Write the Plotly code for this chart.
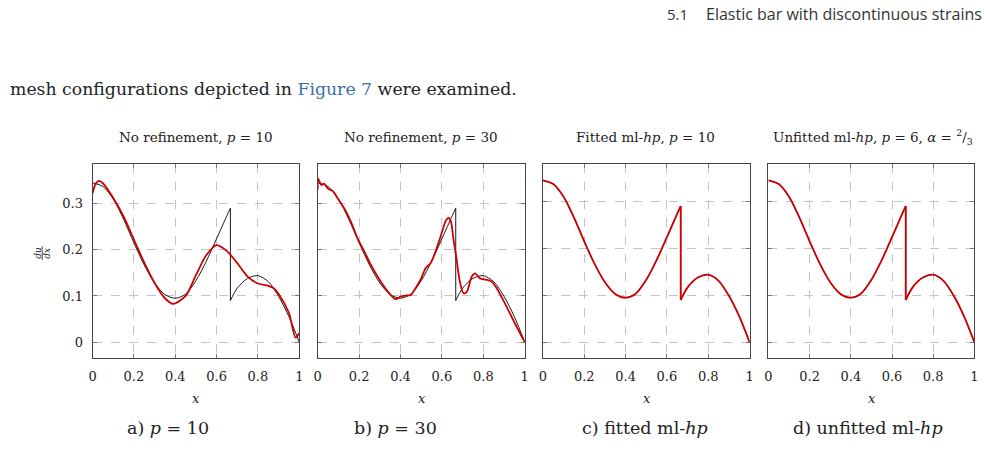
import plotly.graph_objects as go

# ---------------- data ----------------
exact_left_x = [0.0, 0.05, 0.10, 0.15, 0.20, 0.25, 0.30, 0.35, 0.40, 0.45, 0.50, 0.55, 0.60, 0.65, 0.6667]
exact_left_y = [0.345, 0.337, 0.310, 0.266, 0.215, 0.167, 0.128, 0.103, 0.095, 0.104, 0.133, 0.175, 0.224, 0.274, 0.290]
exact_right_x = [0.6667, 0.70, 0.75, 0.80, 0.85, 0.90, 0.95, 1.00]
exact_right_y = [0.090, 0.117, 0.138, 0.144, 0.131, 0.099, 0.055, 0.000]

p10_x = [0.0, 0.015, 0.03, 0.05, 0.10, 0.15, 0.20, 0.25, 0.30, 0.35, 0.39, 0.45, 0.50, 0.55, 0.60,
         0.65, 0.70, 0.75, 0.80, 0.85, 0.875, 0.90, 0.95, 0.982, 1.0]
p10_y = [0.322, 0.343, 0.349, 0.344, 0.312, 0.272, 0.222, 0.172, 0.128, 0.095, 0.083, 0.100, 0.145, 0.188, 0.210,
         0.197, 0.171, 0.142, 0.127, 0.122, 0.117, 0.104, 0.063, 0.010, 0.020]

p30_x = [0.0, 0.002, 0.018, 0.030, 0.050, 0.073, 0.097, 0.129, 0.161, 0.193, 0.225, 0.257, 0.289, 0.321,
         0.353, 0.377, 0.401, 0.425, 0.449, 0.473, 0.497, 0.521, 0.545, 0.569, 0.593, 0.621, 0.633, 0.644,
         0.656, 0.669, 0.685, 0.704, 0.720, 0.744, 0.760, 0.784, 0.816, 0.840, 0.864, 0.896, 0.920, 0.944,
         0.968, 1.0]
p30_y = [0.330, 0.354, 0.340, 0.343, 0.332, 0.327, 0.311, 0.289, 0.260, 0.224, 0.196, 0.167, 0.142, 0.120,
         0.102, 0.093, 0.099, 0.101, 0.102, 0.117, 0.135, 0.160, 0.171, 0.196, 0.228, 0.265, 0.269, 0.260,
         0.221, 0.185, 0.135, 0.106, 0.109, 0.142, 0.149, 0.138, 0.135, 0.131, 0.117, 0.091, 0.070, 0.048,
         0.027, 0.0]

x_ticks = [0, 0.2, 0.4, 0.6, 0.8, 1]
x_tick_text = ["0", "0.2", "0.4", "0.6", "0.8", "1"]
y_ticks = [0, 0.1, 0.2, 0.3]
y_tick_text = ["0", "0.1", "0.2", "0.3"]

panel_titles = ["No refinement, <i>p</i> = 10", "No refinement, <i>p</i> = 30",
                "Fitted ml-<i>hp</i>, <i>p</i> = 10",
                "Unfitted ml-<i>hp</i>, <i>p</i> = 6, <i>α</i> = <sup>2</sup>/<sub>3</sub>"]
captions = ["a) <i>p</i> = 10", "b) <i>p</i> = 30", "c) fitted ml-<i>hp</i>", "d) unfitted ml-<i>hp</i>"]
approx_x = [p10_x, p30_x]
approx_y = [p10_y, p30_y]
y_ranges = [[-0.035, 0.385], [-0.035, 0.385], [-0.034, 0.379], [-0.034, 0.379]]

# ---------------- layout geometry ----------------
W, H = 987, 472
def px(x): return x / W
def py(y): return 1 - y / H

x_domains_px = [(89.3, 297.7), (316.3, 525.0), (543.3, 751.7), (770.7, 978.3)]
y_top, y_bot = 164.3, 358.3

RED = "#cc0000"
BLACK = "#1a1a1a"
SERIF = "DejaVu Serif, Liberation Serif, serif"

fig = go.Figure()

def seg(xs, ys, xa, ya, color, width, spline=True):
    line = dict(color=color, width=width)
    if spline:
        line.update(shape="spline", smoothing=0.8)
    fig.add_trace(go.Scatter(x=xs, y=ys, xaxis=xa, yaxis=ya, mode="lines", line=line,
                             showlegend=False, hoverinfo="skip"))

for i in range(4):
    xa = "x" if i == 0 else f"x{i+1}"
    ya = "y" if i == 0 else f"y{i+1}"
    # exact solution (black)
    seg(exact_left_x, exact_left_y, xa, ya, BLACK, 1)
    seg([exact_left_x[-1], exact_right_x[0]], [exact_left_y[-1], exact_right_y[0]], xa, ya, BLACK, 1, False)
    seg(exact_right_x, exact_right_y, xa, ya, BLACK, 1)
    # approximation (red)
    if i < 2:
        seg(approx_x[i], approx_y[i], xa, ya, RED, 1.8)
    else:
        seg(exact_left_x, exact_left_y, xa, ya, RED, 1.8)
        seg([exact_left_x[-1], exact_right_x[0]], [exact_left_y[-1], exact_right_y[0]], xa, ya, RED, 1.8, False)
        seg(exact_right_x, exact_right_y, xa, ya, RED, 1.8)

    x0, x1 = x_domains_px[i]
    axis_common = dict(showgrid=True, griddash="dash", gridcolor="#c4c4c4", gridwidth=1,
                       zeroline=False, showline=True, linecolor="#444444", linewidth=1,
                       mirror="allticks", ticks="inside", ticklen=4, tickcolor="#777777",
                       tickfont=dict(family=SERIF, size=13, color="#222222"))
    fig.update_layout(**{
        ("xaxis" if i == 0 else f"xaxis{i+1}"): dict(
            domain=[px(x0), px(x1)], range=[0, 1], tickvals=x_ticks, ticktext=x_tick_text,
            anchor=ya, ticklabelstandoff=6, **axis_common),
        ("yaxis" if i == 0 else f"yaxis{i+1}"): dict(
            domain=[py(y_bot), py(y_top)], range=y_ranges[i], tickvals=y_ticks, ticktext=y_tick_text,
            anchor=xa, showticklabels=(i == 0), ticklabelstandoff=6, **axis_common),
    })

annotations = []
def ann(text, x, y, size, xanchor="center", family=SERIF, color="#222222", angle=0):
    annotations.append(dict(text=text, x=px(x), y=py(y), xref="paper", yref="paper",
                            xanchor=xanchor, yanchor="middle", showarrow=False, textangle=angle,
                            font=dict(family=family, size=size, color=color)))

SANS = "Open Sans, sans-serif"
ann("5.1", 666, 14, 15, xanchor="left", family=SANS, color="#333333")
ann("Elastic bar with discontinuous strains", 988, 14, 16, xanchor="right", family=SANS, color="#333333")
ann('mesh configurations depicted in <span style="color:#3d6fa8">Figure 7</span> were examined.',
    4, 89, 17.3, xanchor="left")

title_cx = [194, 420, 647, 876]
x_label_cx = [194, 421, 648, 875]
caption_cx = [165, 395, 646, 871]
for i in range(4):
    ann(panel_titles[i], title_cx[i], 137, 13.5)
    ann("<i>x</i>", x_label_cx[i], 398, 13)
    ann(captions[i], caption_cx[i], 428, 17.5)

# du/dx rotated fraction
ann("<i>du</i>", 34, 253, 9, angle=-90)
ann("<i>dx</i>", 43, 253, 9, angle=-90)

fig.update_layout(
    width=W, height=H, margin=dict(l=0, r=0, t=0, b=0),
    paper_bgcolor="white", plot_bgcolor="white",
    annotations=annotations,
    shapes=[dict(type="line", xref="paper", yref="paper", x0=px(38.5), x1=px(38.5),
                 y0=py(246), y1=py(260), line=dict(color="#222222", width=0.8))],
)

fig.write_html("out.html")
